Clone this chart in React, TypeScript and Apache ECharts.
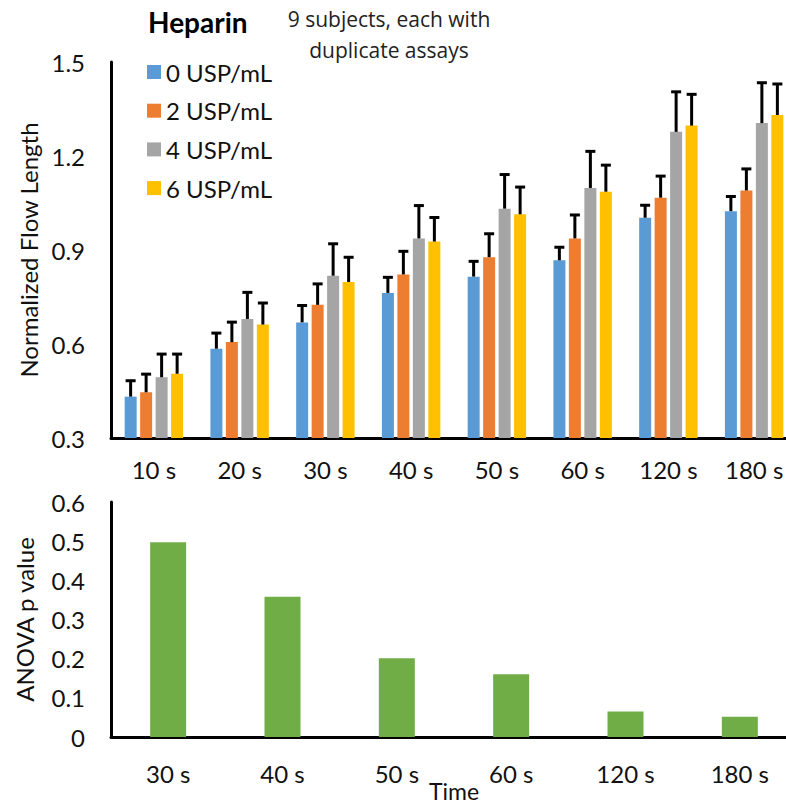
import React, { useEffect, useRef } from "react";
import * as echarts from "echarts";

const timeCats = ["10 s", "20 s", "30 s", "40 s", "50 s", "60 s", "120 s", "180 s"];
const seriesNames = ["0 USP/mL", "2 USP/mL", "4 USP/mL", "6 USP/mL"];
const usp0 = [0.432, 0.585, 0.669, 0.763, 0.815, 0.867, 1.003, 1.024];
const usp0Err = [0.054, 0.053, 0.057, 0.053, 0.052, 0.045, 0.043, 0.05];
const usp2 = [0.446, 0.606, 0.725, 0.822, 0.877, 0.937, 1.067, 1.09];
const usp2Err = [0.061, 0.067, 0.07, 0.077, 0.078, 0.078, 0.072, 0.072];
const usp4 = [0.494, 0.68, 0.818, 0.937, 1.032, 1.098, 1.277, 1.305];
const usp4Err = [0.077, 0.088, 0.105, 0.108, 0.112, 0.12, 0.131, 0.132];
const usp6 = [0.505, 0.662, 0.798, 0.927, 1.014, 1.086, 1.297, 1.331];
const usp6Err = [0.066, 0.072, 0.082, 0.08, 0.09, 0.088, 0.103, 0.102];

const anovaCats = ["30 s", "40 s", "50 s", "60 s", "120 s", "180 s"];
const anovaP = [0.497, 0.358, 0.201, 0.16, 0.065, 0.052];

const colors = ["#5B9BD5", "#ED7D31", "#A5A5A5", "#FFC000"];
const green = "#70AD47";
const FONT = "Lato";

export default function App() {
  const ref = useRef<HTMLDivElement>(null);
  useEffect(() => {
    if (!ref.current) return;
    const chart = echarts.init(ref.current, null, { renderer: "svg" });
    const values = [usp0, usp2, usp4, usp6];
    const errs = [usp0Err, usp2Err, usp4Err, usp6Err];
    const barW = 12;
    const step = 15.5;

    const barSeries = values.map((vals, si) => ({
      name: seriesNames[si],
      type: "bar",
      xAxisIndex: 0,
      yAxisIndex: 0,
      data: vals,
      barWidth: barW,
      barGap: "29%",
      itemStyle: { color: colors[si] },
    }));

    const errSeries = values.map((vals, si) => ({
      name: seriesNames[si] + " err",
      type: "custom",
      xAxisIndex: 0,
      yAxisIndex: 0,
      z: 5,
      data: vals.map((v, i) => [i, v, errs[si][i]]),
      encode: { x: 0, y: 1 },
      renderItem: (params: any, api: any) => {
        const ci = api.value(0);
        const v = api.value(1);
        const e = api.value(2);
        const base = api.coord([ci, v]);
        const top = api.coord([ci, v + e]);
        const x = base[0] + (si - 1.5) * step;
        return {
          type: "group",
          children: [
            {
              type: "line",
              shape: { x1: x, y1: base[1], x2: x, y2: top[1] + 1 },
              style: { stroke: "#000", lineWidth: 3 },
            },
            {
              type: "line",
              shape: { x1: x - 5, y1: top[1] + 1, x2: x + 5, y2: top[1] + 1 },
              style: { stroke: "#000", lineWidth: 3 },
            },
          ],
        };
      },
    }));

    const labelStyle = { color: "#111", fontSize: 24, fontFamily: FONT };

    chart.setOption({
      animation: false,
      textStyle: { fontFamily: FONT },
      legend: {
        data: seriesNames,
        orient: "vertical",
        left: 147,
        top: 60,
        padding: 0,
        itemWidth: 14,
        itemHeight: 14,
        itemGap: 14.7,
        icon: "rect",
        textStyle: { color: "#111", fontSize: 24, fontFamily: FONT, lineHeight: 24, padding: [0, 0, 0, 0] },
        selectedMode: false,
      },
      graphic: [
        {
          type: "text",
          left: 148,
          top: 8,
          style: { text: "Heparin", fontSize: 28, fontWeight: "bold", fontFamily: FONT, fill: "#000" },
        },
        {
          type: "text",
          x: 389,
          y: 3,
          style: {
            text: "9 subjects, each with\nduplicate assays",
            fontSize: 21,
            lineHeight: 31,
            fontFamily: "Open Sans",
            fill: "#222",
            align: "center",
            verticalAlign: "top",
          },
        },
      ],
      grid: [
        { left: 111, top: 62, width: 686, height: 376, outerBoundsMode: "none", containLabel: false },
        { left: 111, top: 502, width: 686, height: 235, outerBoundsMode: "none", containLabel: false },
      ],
      xAxis: [
        {
          type: "category",
          gridIndex: 0,
          data: timeCats,
          axisLine: { lineStyle: { color: "#000", width: 3 } },
          axisTick: { show: false },
          axisLabel: { ...labelStyle, margin: 19 },
        },
        {
          type: "category",
          gridIndex: 1,
          data: anovaCats,
          name: "Time",
          nameLocation: "middle",
          nameGap: 42,
          nameMoveOverlap: false,
          nameTextStyle: { color: "#111", fontSize: 23, fontFamily: FONT },
          axisLine: { lineStyle: { color: "#000", width: 3 } },
          axisTick: { show: false },
          axisLabel: { ...labelStyle, margin: 24 },
        },
      ],
      yAxis: [
        {
          type: "value",
          gridIndex: 0,
          min: 0.3,
          max: 1.5,
          interval: 0.3,
          name: "Normalized Flow Length",
          nameLocation: "middle",
          nameGap: 71,
          nameMoveOverlap: false,
          nameTextStyle: { color: "#111", fontSize: 24, fontFamily: FONT },
          axisLine: { show: true, lineStyle: { color: "#000", width: 3 } },
          axisTick: { show: false },
          splitLine: { show: false },
          axisLabel: { ...labelStyle, margin: 26, formatter: (v: number) => v.toFixed(1) },
        },
        {
          type: "value",
          gridIndex: 1,
          min: 0,
          max: 0.6,
          interval: 0.1,
          name: "ANOVA p value",
          nameLocation: "middle",
          nameGap: 75,
          nameMoveOverlap: false,
          nameTextStyle: { color: "#111", fontSize: 24, fontFamily: FONT },
          axisLine: { show: true, lineStyle: { color: "#000", width: 3 } },
          axisTick: { show: false },
          splitLine: { show: false },
          axisLabel: {
            ...labelStyle,
            margin: 26,
            formatter: (v: number) => (v === 0 ? "0" : v.toFixed(1)),
          },
        },
      ],
      series: [
        ...barSeries,
        ...errSeries,
        {
          name: "ANOVA",
          type: "bar",
          xAxisIndex: 1,
          yAxisIndex: 1,
          data: anovaP,
          barWidth: 36,
          itemStyle: { color: green },
        },
      ],
    });
    return () => chart.dispose();
  }, []);
  return (
    <div
      ref={ref}
      style={{ position: "absolute", left: 0, top: 0, width: 786, height: 804, background: "#fff" }}
    />
  );
}
